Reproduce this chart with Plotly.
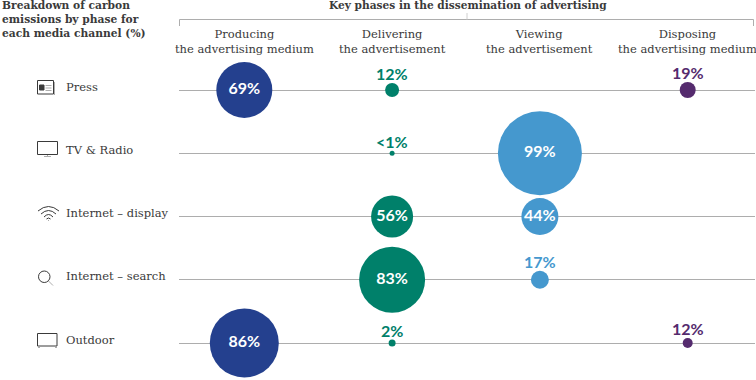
import plotly.graph_objects as go

W, H = 756, 380
channels = ["Press", "TV & Radio", "Internet – display", "Internet – search", "Outdoor"]
phases = ["Producing<br>the advertising medium", "Delivering<br>the advertisement",
          "Viewing<br>the advertisement", "Disposing<br>the advertising medium"]
producing = [69, None, None, None, 86]
delivering = [12, 0.5, 56, 83, 2]
viewing = [None, 99, 44, 17, None]
disposing = [19, None, None, None, 12]
labels = {0.5: "<1%"}
# bubble diameters (px), row by row
producing_d = [56, None, None, None, 69]
delivering_d = [14, 5, 42, 66, 7]
viewing_d = [None, 84, 37, 18, None]
disposing_d = [16, None, None, None, 10]
colors = ["#24408E", "#00806A", "#4598CE", "#552B6E"]
series = [producing, delivering, viewing, disposing]
sizes = [producing_d, delivering_d, viewing_d, disposing_d]
title_left = "Breakdown of carbon<br>emissions by phase for<br>each media channel (%)"
title_top = "Key phases in the dissemination of advertising"

SERIF = "DejaVu Serif"
SANS = "Lato"
INK = "#3a3a3a"
RULE = "#adadad"

fig = go.Figure()
ann = []
for phase, vals, ds, col in zip(phases, series, sizes, colors):
    rows = [c for c, v in zip(channels, vals) if v is not None]
    nums = [v for v in vals if v is not None]
    dia = [d for d in ds if d is not None]
    fig.add_trace(go.Scatter(
        x=[phase] * len(rows), y=rows, mode="markers+text",
        marker=dict(size=dia, sizemode="diameter", color=col, opacity=1, line=dict(width=0)),
        text=[f"{v}%" if v >= 30 else "" for v in nums],
        textposition="middle center",
        textfont=dict(family=SANS, size=16, weight="bold", color="white"),
        cliponaxis=False, showlegend=False, hoverinfo="skip"))
    for r, v, d in zip(rows, nums, dia):
        if v < 30:
            ann.append(dict(text=labels.get(v, f"{v}%"), x=phase, y=r, xref="x", yref="y",
                            yshift=d / 2 + 9.5, xanchor="center", yanchor="middle", showarrow=False,
                            font=dict(family=SANS, size=16, weight="bold", color=col)))

def px(x):
    return x / W
def py(y):
    return 1 - y / H

shapes = []
def line(x0, y0, x1, y1, color=RULE, width=1):
    shapes.append(dict(type="line", xref="paper", yref="paper", x0=px(x0), y0=py(y0),
                       x1=px(x1), y1=py(y1), line=dict(color=color, width=width)))
def rect(x0, y0, x1, y1, color=INK, width=1, fill="rgba(0,0,0,0)"):
    shapes.append(dict(type="rect", xref="paper", yref="paper", x0=px(x0), y0=py(y0),
                       x1=px(x1), y1=py(y1), line=dict(color=color, width=width), fillcolor=fill))
def circle(x0, y0, x1, y1, color=INK, width=1):
    shapes.append(dict(type="circle", xref="paper", yref="paper", x0=px(x0), y0=py(y0),
                       x1=px(x1), y1=py(y1), line=dict(color=color, width=width)))
def arc(x0, x1, y0, ytop):
    cx = (x0 + x1) / 2
    shapes.append(dict(type="path", xref="paper", yref="paper",
                       path=f"M {px(x0)} {py(y0)} Q {px(cx)} {py(ytop)} {px(x1)} {py(y0)}",
                       line=dict(color=INK, width=1)))

# bracket
line(179.5, 19.5, 753.5, 19.5)
line(179.5, 19.5, 179.5, 26)
line(753.5, 19.5, 753.5, 26)
line(467, 13, 467, 19.5, "#d0d0d0")
# press icon
rect(37.5, 80.5, 53.5, 94, INK, 1)
line(54.5, 82, 54.5, 95)
rect(39.5, 85, 44, 90, INK, 1, INK)
line(45.5, 85.5, 51.5, 85.5)
line(45.5, 88, 51.5, 88)
line(45.5, 90.5, 51.5, 90.5)
# tv icon
rect(37.5, 141.5, 57.5, 154.5)
line(47.5, 155, 47.5, 157)
line(44, 156.5, 51, 156.5)
# wifi icon
arc(38, 59, 211, 202)
arc(41, 56, 214, 207)
arc(44, 53, 217, 212)
arc(46.5, 50.5, 219, 217)
line(48, 220.5, 49, 220.5)
# search icon
circle(38.5, 271, 50, 282.5)
line(48.5, 281, 53, 285.5)
# outdoor icon
rect(37.5, 333.5, 57, 346)
line(38, 347.5, 40, 347.5)
line(55, 347.5, 57, 347.5)

ann += [
    dict(text=title_left, x=px(0), y=py(-3), xanchor="left", yanchor="top", align="left",
         xref="paper", yref="paper", showarrow=False,
         font=dict(family=SERIF, size=10.7, color=INK, weight="bold")),
    dict(text=title_top, x=px(468), y=py(-3), xanchor="center", yanchor="top",
         xref="paper", yref="paper", showarrow=False,
         font=dict(family=SERIF, size=10.6, color=INK, weight="bold")),
]
for p in phases:
    ann.append(dict(text=p, x=p, xref="x", y=py(25), yref="paper", yanchor="top", xanchor="center",
                    align="center", showarrow=False,
                    font=dict(family=SERIF, size=11.5, color=INK)))
for c in channels:
    ann.append(dict(text=c, x=px(64), xref="paper", y=c, yref="y", xanchor="left", yanchor="middle",
                    yshift=3.5, showarrow=False, font=dict(family=SERIF, size=11.5, color=INK)))

col_step = 147.8
col_origin = 244.3
row_step = 63.25
fig.update_layout(
    width=W, height=H, margin=dict(l=0, r=0, t=0, b=0, pad=0, autoexpand=False),
    paper_bgcolor="white", plot_bgcolor="white", showlegend=False,
    shapes=shapes, annotations=ann,
    xaxis=dict(type="category", categoryorder="array", categoryarray=phases,
               domain=[179 / W, 754.5 / W],
               range=[(179 - col_origin) / col_step, (754.5 - col_origin) / col_step],
               showgrid=False, zeroline=False, showline=False, showticklabels=False, ticks=""),
    yaxis=dict(type="category", categoryorder="array", categoryarray=channels,
               domain=[0, 1], range=[(H - 90) / row_step, -90 / row_step],
               showgrid=True, gridcolor=RULE, gridwidth=1, zeroline=False, showline=False,
               showticklabels=False, ticks=""),
)
fig.write_html("out.html", config=dict(displayModeBar=False),
               post_script="document.body.style.margin='0';document.body.style.overflow='hidden';")
